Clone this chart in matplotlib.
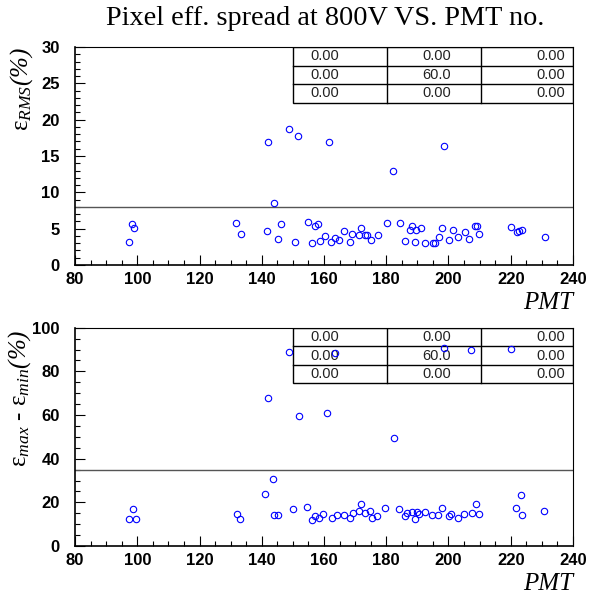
import matplotlib
matplotlib.use("Agg")
import matplotlib.pyplot as plt
from matplotlib.patches import Rectangle
from matplotlib.ticker import MultipleLocator

plt.rcParams['mathtext.fontset'] = 'custom'
plt.rcParams['mathtext.rm'] = 'Liberation Serif'
plt.rcParams['mathtext.it'] = 'Liberation Serif:italic'
plt.rcParams['mathtext.bf'] = 'Liberation Serif:bold'

# top panel: RMS spread per PMT
pmt_rms = [97.4, 98.4, 98.9, 131.8, 133.2, 141.6, 142.1, 143.8, 145.1, 146.1,
           148.7, 150.6, 151.7, 154.7, 156.0, 157.0, 158.1, 158.8, 160.3, 161.6,
           162.2, 163.4, 164.7, 166.4, 168.2, 168.9, 171.3, 171.8, 173.1, 173.9,
           175.0, 177.2, 180.2, 182.1, 184.4, 186.0, 187.5, 188.4, 189.2, 189.7,
           191.3, 192.3, 195.0, 195.8, 197.1, 198.0, 198.6, 200.1, 201.3, 203.1,
           205.2, 206.6, 208.4, 209.1, 209.8, 220.2, 221.9, 222.5, 223.7, 231.0]
eff_rms = [3.16, 5.64, 5.05, 5.78, 4.26, 4.68, 16.9, 8.57, 3.53, 5.69,
           18.76, 3.2, 17.8, 5.96, 3.07, 5.41, 5.64, 3.35, 3.99, 16.9,
           3.12, 3.67, 3.49, 4.63, 3.12, 4.31, 4.08, 5.09, 4.08, 4.08,
           3.39, 4.17, 5.78, 12.9, 5.82, 3.3, 4.77, 5.37, 3.12, 4.77,
           5.14, 3.03, 3.07, 3.07, 3.81, 5.09, 16.4, 3.49, 4.77, 3.85,
           4.49, 3.58, 5.32, 5.41, 4.31, 5.18, 4.49, 4.72, 4.77, 3.81]

# bottom panel: max - min spread per PMT
pmt_range = [97.3, 98.6, 99.7, 132.1, 133.1, 140.9, 142.0, 143.7, 143.9, 145.1,
             148.6, 150.1, 151.9, 154.6, 156.0, 157.1, 158.4, 159.6, 161.0, 162.5,
             163.4, 164.2, 166.3, 168.3, 169.3, 171.4, 171.8, 173.3, 174.7, 175.3,
             176.9, 179.6, 182.5, 184.2, 185.9, 186.6, 188.2, 189.1, 189.9, 190.5,
             192.4, 194.7, 196.5, 198.0, 198.6, 200.1, 200.7, 202.9, 205.0, 207.2,
             207.4, 208.8, 209.9, 220.2, 221.7, 223.2, 223.7, 230.8]
eff_range = [12.5, 17.1, 12.2, 14.8, 12.2, 24.0, 68.0, 30.6, 14.2, 14.2,
             89.0, 17.1, 59.6, 17.7, 11.9, 13.6, 12.7, 14.8, 60.7, 13.0,
             88.4, 14.2, 14.2, 12.8, 15.3, 16.2, 19.4, 15.0, 15.9, 12.8,
             13.8, 17.4, 49.7, 17.0, 13.8, 15.3, 15.6, 12.4, 15.6, 14.5,
             15.4, 14.2, 14.0, 17.3, 90.5, 13.6, 14.5, 13.0, 14.8, 90.0,
             15.0, 19.3, 14.7, 90.2, 17.6, 23.2, 14.2, 16.2]

cut_rms = 8
cut_range = 35
table_rows = [["0.00", "0.00", "0.00"],
              ["0.00", "60.0", "0.00"],
              ["0.00", "0.00", "0.00"]]

tick_font = {'family': 'Liberation Sans', 'weight': 'bold', 'size': 12}


def draw_table(ax, rows):
    x0, y0 = 0.4378, 0.7445
    cols = [x0, 0.627, 0.8147, 1.0]
    h = (1.0 - y0) / len(rows)
    ax.add_patch(Rectangle((x0, y0), 1.0 - x0, 1.0 - y0, transform=ax.transAxes,
                           facecolor='white', edgecolor='black', lw=1.0, zorder=1.5))
    for c in cols[1:3]:
        ax.plot([c, c], [y0, 1.0], color='black', lw=1.0, transform=ax.transAxes, zorder=1.6)
    for r in range(1, len(rows)):
        ax.plot([x0, 1.0], [y0 + r * h] * 2, color='black', lw=1.0,
                transform=ax.transAxes, zorder=1.6)
    for i, row in enumerate(rows):
        yc = 1.0 - (i + 0.5) * h
        kw = dict(transform=ax.transAxes, va='center', fontsize=10.5,
                  family='Liberation Sans', color='#222222', zorder=1.7)
        ax.text(0.472, yc, row[0], ha='left', **kw)
        ax.text(0.727, yc, row[1], ha='center', **kw)
        ax.text(0.984, yc, row[2], ha='right', **kw)


def style_axes(ax, ymax, ymajor, yminor):
    ax.set_xlim(80, 240)
    ax.set_ylim(0, ymax)
    ax.xaxis.set_major_locator(MultipleLocator(20))
    ax.xaxis.set_minor_locator(MultipleLocator(5))
    ax.yaxis.set_major_locator(MultipleLocator(ymajor))
    ax.yaxis.set_minor_locator(MultipleLocator(yminor))
    ax.tick_params(which='both', direction='in', top=False, right=False, width=0.8)
    ax.tick_params(which='major', length=7)
    ax.tick_params(which='minor', length=3.8)
    ax.tick_params(axis='y', pad=11)
    ax.tick_params(axis='x', pad=5)
    for lab in ax.get_xticklabels() + ax.get_yticklabels():
        lab.set_fontproperties(tick_font)
    for s in ['left', 'bottom']:
        ax.spines[s].set_linewidth(1.2)
    for s in ['top', 'right']:
        ax.spines[s].set_linewidth(0.8)
    ax.set_xlabel('PMT', loc='right', fontsize=18, family='Liberation Serif', style='italic')
    ax.xaxis.set_label_coords(1.0, -0.122)


fig = plt.figure(figsize=(6.02, 5.97), dpi=100)
ax1 = fig.add_axes([0.1246, 0.5561, 0.8272, 0.3652])
ax2 = fig.add_axes([0.1246, 0.0854, 0.8272, 0.3657])

ax1.plot(pmt_rms, eff_rms, 'o', mfc='none', mec='blue', ms=4.6, mew=0.8, zorder=3)
ax1.axhline(cut_rms, color='#555555', lw=1.0, zorder=2)
draw_table(ax1, table_rows)
style_axes(ax1, 30, 5, 1)
ax1.set_ylabel(r'$\mathrm{ε}_{RMS}$(%)', loc='top', fontsize=18,
               family='Liberation Serif', style='italic')
ax1.yaxis.set_label_coords(-0.08, 1.0)

ax2.plot(pmt_range, eff_range, 'o', mfc='none', mec='blue', ms=4.6, mew=0.8, zorder=3)
ax2.axhline(cut_range, color='#555555', lw=1.0, zorder=2)
draw_table(ax2, table_rows)
style_axes(ax2, 100, 20, 5)
ax2.set_ylabel(r'$\mathrm{ε}_{max}$ - $\mathrm{ε}_{min}$(%)', loc='top', fontsize=18,
               family='Liberation Serif', style='italic')
ax2.yaxis.set_label_coords(-0.085, 0.99)

fig.text(0.54, 1 - 25 / 597, 'Pixel eff. spread at 800V VS. PMT no.',
         ha='center', va='baseline', fontsize=20.3, family='Liberation Serif')

fig.savefig('out.png', dpi=100)
